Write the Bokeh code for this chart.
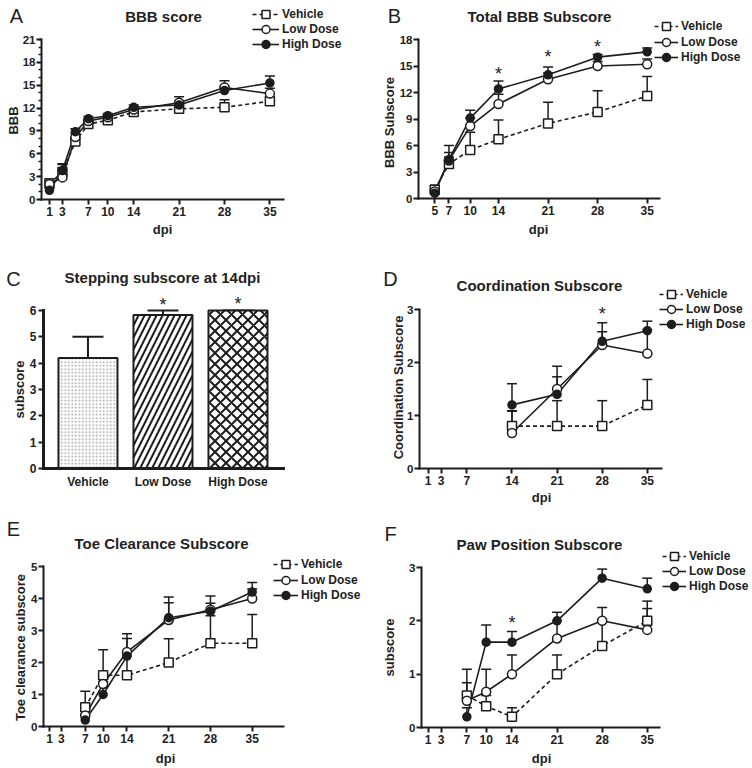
import math
from bokeh.plotting import figure
from bokeh.models import (Range1d, FixedTicker, Label, Legend, LegendItem,
                          Whisker, TeeHead, ColumnDataSource)
from bokeh.layouts import row, column
from bokeh.embed import file_html
from bokeh.resources import INLINE

FONT = "Liberation Sans"
INK = "#1d1d1d"
TXT = "#222222"

SERIES = ["Vehicle", "Low Dose", "High Dose"]

# ---------------- data ----------------
# A: BBB score
a_days = [1, 3, 5, 7, 10, 14, 21, 28, 35]
a_veh = [2.1, 3.6, 7.6, 9.9, 10.4, 11.5, 11.9, 12.1, 12.9]
a_veh_sem = [0.6, 1.1, 0.4, 0.3, 0.3, 0.3, 0.4, 1.0, 0.6]
a_low = [2.0, 2.9, 8.2, 10.3, 10.8, 11.8, 12.7, 14.7, 13.9]
a_low_sem = [0.4, 0.4, 0.5, 0.3, 0.3, 0.3, 0.8, 0.9, 0.7]
a_high = [1.2, 3.8, 8.9, 10.6, 11.0, 12.1, 12.4, 14.3, 15.3]
a_high_sem = [0.3, 0.8, 0.4, 0.3, 0.3, 0.3, 0.5, 0.6, 0.9]
a_xticks = [1, 3, 7, 10, 14, 21, 28, 35]
a_yticks = [0, 3, 6, 9, 12, 15, 18, 21]

# B: Total BBB Subscore
b_days = [5, 7, 10, 14, 21, 28, 35]
b_veh = [1.0, 3.9, 5.5, 6.7, 8.5, 9.8, 11.6]
b_veh_sem = [0.5, 0.8, 2.0, 2.2, 2.4, 2.4, 2.2]
b_low = [0.8, 4.3, 8.2, 10.7, 13.5, 15.0, 15.2]
b_low_sem = [0.3, 0.9, 0.9, 1.1, 0.7, 0.5, 0.6]
b_high = [0.6, 4.4, 9.1, 12.4, 14.0, 16.0, 16.6]
b_high_sem = [0.4, 1.6, 0.9, 0.9, 0.9, 0.3, 0.45]
b_xticks = [5, 7, 10, 14, 21, 28, 35]
b_yticks = [0, 3, 6, 9, 12, 15, 18]
b_star_x = [14, 21, 28]
b_star_y = [14.1, 16.0, 17.1]

# C: Stepping subscore at 14dpi
c_groups = ["Vehicle", "Low Dose", "High Dose"]
c_pos = [1, 2, 3]
c_vals = [4.2, 5.83, 6.0]
c_sem = [0.8, 0.17, 0.0]
c_star_x = [2, 3]
c_star_y = [6.2, 6.25]
c_yticks = [0, 1, 2, 3, 4, 5, 6]

# D: Coordination Subscore
d_days = [14, 21, 28, 35]
d_veh = [0.8, 0.8, 0.8, 1.2]
d_veh_sem = [0.28, 0.48, 0.48, 0.48]
d_low = [0.67, 1.5, 2.33, 2.17]
d_low_sem = [0.42, 0.43, 0.25, 0.45]
d_high = [1.2, 1.4, 2.4, 2.6]
d_high_sem = [0.4, 0.33, 0.35, 0.18]
d_xticks = [1, 3, 7, 14, 21, 28, 35]
d_yticks = [0, 1, 2, 3]
d_star_x = [28]
d_star_y = [2.92]

# E: Toe Clearance Subscore
e_days = [7, 10, 14, 21, 28, 35]
e_veh = [0.6, 1.6, 1.6, 2.0, 2.6, 2.6]
e_veh_sem = [0.5, 0.8, 0.6, 0.74, 0.86, 0.9]
e_low = [0.34, 1.33, 2.33, 3.33, 3.65, 4.0]
e_low_sem = [0.2, 0.3, 0.42, 0.54, 0.2, 0.3]
e_high = [0.2, 1.0, 2.2, 3.4, 3.6, 4.2]
e_high_sem = [0.2, 0.4, 0.7, 0.65, 0.48, 0.3]
e_xticks = [1, 3, 7, 10, 14, 21, 28, 35]
e_yticks = [0, 1, 2, 3, 4, 5]

# F: Paw Position Subscore
f_days = [7, 10, 14, 21, 28, 35]
f_veh = [0.6, 0.4, 0.2, 1.0, 1.53, 2.0]
f_veh_sem = [0.49, 0.2, 0.17, 0.36, 0.5, 0.37]
f_low = [0.5, 0.67, 1.0, 1.67, 2.0, 1.83]
f_low_sem = [0.34, 0.42, 0.36, 0.33, 0.25, 0.4]
f_high = [0.2, 1.6, 1.6, 2.0, 2.8, 2.6]
f_high_sem = [0.17, 0.32, 0.2, 0.16, 0.17, 0.2]
f_xticks = [1, 3, 7, 10, 14, 21, 28, 35]
f_yticks = [0, 1, 2, 3]
f_star_x = [14]
f_star_y = [1.96]


# ---------------- helpers ----------------
class Panel:
    """A figure whose whole canvas is the frame; axes are placed with fixed_location/bounds."""

    def __init__(self, box, frame, xb, yb, xticks, yticks, axw=2):
        ox, oy, w, h = box
        fl, ft, fr, fb = frame
        x0, x1 = xb
        y0, y1 = yb
        sx = (fr - fl) / (x1 - x0)
        sy = (fb - ft) / (y1 - y0)
        xr = (x0 - (fl - ox) / sx, x1 + (ox + w - fr) / sx)
        yr = (y0 - (oy + h - fb) / sy, y1 + (ft - oy) / sy)
        self.ox, self.oy, self.w, self.h = ox, oy, w, h
        p = figure(width=w, height=h, x_range=Range1d(*xr), y_range=Range1d(*yr),
                   output_backend="svg", toolbar_location=None, tools="",
                   min_border=0, min_border_left=0, min_border_right=0,
                   min_border_top=0, min_border_bottom=0)
        p.outline_line_color = None
        p.xgrid.visible = False
        p.ygrid.visible = False
        p.background_fill_color = "white"
        p.border_fill_color = "white"
        xa, ya = p.xaxis[0], p.yaxis[0]
        xa.fixed_location = y0
        ya.fixed_location = x0
        xa.bounds = (x0, x1)
        ya.bounds = (y0, y1)
        for ax in (xa, ya):
            ax.axis_line_width = axw
            ax.axis_line_color = INK
            ax.axis_line_cap = "square"
            ax.major_tick_line_width = 2
            ax.major_tick_line_color = INK
            ax.major_tick_in = 0
            ax.major_tick_out = 5
            ax.minor_tick_line_color = None
            ax.major_label_text_font = FONT
            ax.major_label_text_font_style = "bold"
            ax.major_label_text_color = TXT
        xa.ticker = FixedTicker(ticks=xticks)
        ya.ticker = FixedTicker(ticks=yticks)
        xa.major_label_text_font_size = "12px"
        ya.major_label_text_font_size = "11.5px"
        xa.major_label_standoff = 2
        ya.major_label_standoff = 1
        self.p = p

    def put(self, px, py, text, size, bold=True, angle=0.0):
        self.p.add_layout(Label(x=px - self.ox, y=self.oy + self.h - py,
                                x_units="screen", y_units="screen",
                                text=text, text_font=FONT, text_font_size=f"{size}px",
                                text_font_style="bold" if bold else "normal",
                                text_color=TXT, text_align="center", text_baseline="middle",
                                angle=angle))

    def stars(self, xs, ys):
        for x, y in zip(xs, ys):
            self.p.add_layout(Label(x=x, y=y, text="*", text_font=FONT, text_font_size="18px",
                                    text_color=TXT, text_align="center",
                                    text_baseline="middle"))

    def legend(self, rends, gx, row_centers, gw):
        gh = 20
        for s, r, yc in zip(SERIES, rends, row_centers):
            bottom = yc + gh / 2
            leg = Legend(items=[LegendItem(label=s, renderers=r)],
                         location=(gx - self.ox, self.oy + self.h - bottom),
                         orientation="vertical", glyph_width=gw, glyph_height=gh,
                         spacing=0, label_standoff=3, padding=0, margin=0,
                         border_line_color=None, background_fill_alpha=0,
                         label_text_font=FONT, label_text_font_style="bold",
                         label_text_font_size="12px", label_text_color=TXT, label_height=12)
            self.p.add_layout(leg)


STYLES = [dict(dash="4 3", marker="square", size=9, fill="white"),
          dict(dash="solid", marker="circle", size=9, fill="white"),
          dict(dash="solid", marker="circle", size=8, fill=INK)]


def series(p, days, vals, sems):
    for v, s in zip(vals, sems):
        src = ColumnDataSource(dict(x=days, y=v, up=[a + b for a, b in zip(v, s)]))
        p.add_layout(Whisker(source=src, base="x", lower="y", upper="up", dimension="height",
                             line_color=INK, line_width=1.5,
                             upper_head=TeeHead(size=10, line_color=INK, line_width=1.5),
                             lower_head=None))
    lines = [p.line(days, v, line_color=INK, line_width=1.6, line_dash=st["dash"])
             for v, st in zip(vals, STYLES)]
    marks = [p.scatter(days, v, marker=st["marker"], size=st["size"], fill_color=st["fill"],
                       line_color=INK, line_width=1.5)
             for v, st in zip(vals, STYLES)]
    return [[l, m] for l, m in zip(lines, marks)]


# ---------------- Panel A ----------------
A = Panel((0, 0, 376, 248), (41, 39, 283, 199), (-0.23, 37.1), (0, 21), a_xticks, a_yticks)
ya = A.p.yaxis[0]
ya.ticker = FixedTicker(ticks=a_yticks, minor_ticks=list(range(0, 22)))
ya.minor_tick_line_color = INK
ya.minor_tick_line_width = 1.5
ya.minor_tick_in = 0
ya.minor_tick_out = 3
r = series(A.p, a_days, [a_veh, a_low, a_high], [a_veh_sem, a_low_sem, a_high_sem])
A.legend(r, 252, [14, 29, 44], 27)
A.put(16, 15, "A", 20, bold=False)
A.put(163, 16, "BBB score", 15)
A.put(13, 120, "BBB", 13, angle=math.pi / 2)
A.put(162, 229, "dpi", 13)

# ---------------- Panel B ----------------
B = Panel((376, 0, 376, 248), (418, 39, 659, 198), (2.7, 36.74), (0, 18), b_xticks, b_yticks)
r = series(B.p, b_days, [b_veh, b_low, b_high], [b_veh_sem, b_low_sem, b_high_sem])
B.legend(r, 654, [26, 42, 57], 24)
B.stars(b_star_x, b_star_y)
B.put(394, 15, "B", 20, bold=False)
B.put(539, 16, "Total BBB Subscore", 15)
B.put(389, 122, "BBB Subscore", 13, angle=math.pi / 2)
B.put(538, 229, "dpi", 13)

# ---------------- Panel C ----------------
C = Panel((0, 248, 376, 258), (43, 310, 283, 468), (0.407, 3.607), (0, 6), c_pos, c_yticks, axw=3)
xc, yc = C.p.xaxis[0], C.p.yaxis[0]
xc.major_tick_out = 0
xc.major_label_overrides = {x: g for x, g in zip(c_pos, c_groups)}
xc.major_label_standoff = 6
yc.major_label_text_font_size = "12px"
yc.major_label_standoff = 2
hatches = [dict(hatch_pattern="dot", hatch_scale=3.5, hatch_weight=1.0, hatch_color="#9a9a9a"),
           dict(hatch_pattern="right_diagonal_line", hatch_scale=12, hatch_weight=2, hatch_color=INK),
           dict(hatch_pattern="diagonal_cross", hatch_scale=11, hatch_weight=2, hatch_color=INK)]
c_src = ColumnDataSource(dict(x=c_pos, y=c_vals, up=[v + s for v, s in zip(c_vals, c_sem)]))
C.p.add_layout(Whisker(source=c_src, base="x", lower="y", upper="up", dimension="height",
                       line_color=INK, line_width=2,
                       upper_head=TeeHead(size=31, line_color=INK, line_width=2), lower_head=None))
for x, v, hs in zip(c_pos, c_vals, hatches):
    C.p.vbar(x=[x], top=[v], bottom=0, width=0.787, fill_color="white",
             line_color=INK, line_width=2, **hs)
C.stars(c_star_x, c_star_y)
C.put(13, 278, "C", 20, bold=False)
C.put(162, 277, "Stepping subscore at 14dpi", 15)
C.put(19, 389, "subscore", 13, angle=math.pi / 2)

# ---------------- Panel D ----------------
D = Panel((376, 248, 376, 258), (419, 309, 661, 468), (-0.35, 37.2), (0, 3), d_xticks, d_yticks)
r = series(D.p, d_days, [d_veh, d_low, d_high], [d_veh_sem, d_low_sem, d_high_sem])
D.legend(r, 659, [294, 309, 324], 24)
D.stars(d_star_x, d_star_y)
D.put(390, 278, "D", 20, bold=False)
D.put(539, 285, "Coordination Subscore", 15)
D.put(398, 387, "Coordination Subscore", 13, angle=math.pi / 2)
D.put(541, 497, "dpi", 13)

# ---------------- Panel E ----------------
E = Panel((0, 506, 376, 260), (43, 566, 283, 726), (0.0, 40.25), (0, 5), e_xticks, e_yticks)
r = series(E.p, e_days, [e_veh, e_low, e_high], [e_veh_sem, e_low_sem, e_high_sem])
E.legend(r, 273, [564, 580, 595], 25)
E.put(13, 528, "E", 20, bold=False)
E.put(161, 543, "Toe Clearance Subscore", 15)
E.put(20, 647, "Toe clearance subscore", 13, angle=math.pi / 2)
E.put(165, 758, "dpi", 13)

# ---------------- Panel F ----------------
F = Panel((376, 506, 376, 260), (421, 567, 659, 727), (-0.04, 36.9), (0, 3), f_xticks, f_yticks)
r = series(F.p, f_days, [f_veh, f_low, f_high], [f_veh_sem, f_low_sem, f_high_sem])
F.legend(r, 662, [556, 571, 586], 24)
F.stars(f_star_x, f_star_y)
F.put(390, 533, "F", 20, bold=False)
F.put(539, 544, "Paw Position Subscore", 15)
F.put(389, 647, "subscore", 13, angle=math.pi / 2)
F.put(541, 758, "dpi", 13)

layout = column(row(A.p, B.p), row(C.p, D.p), row(E.p, F.p))
open("out.html", "w").write(file_html(layout, INLINE))
